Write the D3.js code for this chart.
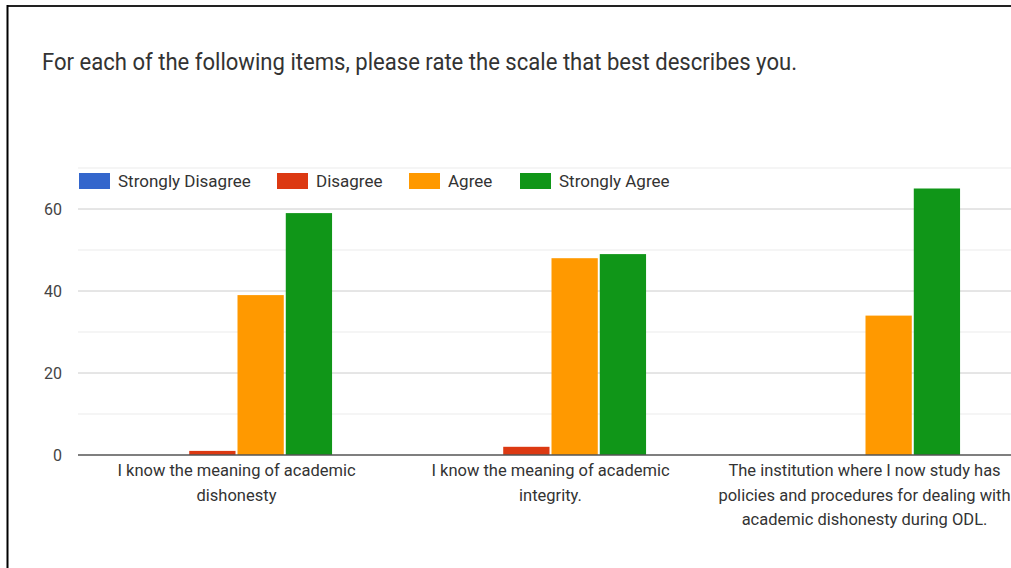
<!DOCTYPE html>
<html>
<head>
<meta charset="utf-8">
<script src="https://cdnjs.cloudflare.com/ajax/libs/d3/7.8.5/d3.min.js"></script>
<style>
  html, body { margin: 0; padding: 0; background: #fff; }
  svg { display: block; font-family: Roboto, Arial, sans-serif; }
</style>
</head>
<body>
<script>
// chart data
const title = "For each of the following items, please rate the scale that best describes you.";
const items = [
  ["I know the meaning of academic", "dishonesty"],
  ["I know the meaning of academic", "integrity."],
  ["The institution where I now study has", "policies and procedures for dealing with", "academic dishonesty during ODL."]
];
const levels = ["Strongly Disagree", "Disagree", "Agree", "Strongly Agree"];
const stronglyDisagree = [0, 0, 0];
const disagree = [1, 2, 0];
const agree = [39, 48, 34];
const stronglyAgree = [59, 49, 65];
const yTicks = [0, 20, 40, 60];
const yMinor = [10, 30, 50, 70];

const colors = ["#3366cc", "#dc3912", "#ff9900", "#109618"];
const series = [stronglyDisagree, disagree, agree, stronglyAgree];

const width = 1011, height = 568;
const svg = d3.select("body").append("svg")
  .attr("width", width)
  .attr("height", height);

// frame of the screenshot
svg.append("line").attr("x1", 7).attr("x2", width).attr("y1", 6).attr("y2", 6)
  .attr("stroke", "#222").attr("stroke-width", 2);
svg.append("line").attr("x1", 7.5).attr("x2", 7.5).attr("y1", 5).attr("y2", height)
  .attr("stroke", "#000").attr("stroke-width", 2);

svg.append("text")
  .attr("x", 42).attr("y", 70)
  .attr("font-size", 23)
  .attr("fill", "#333")
  .attr("textLength", 755)
  .attr("lengthAdjust", "spacingAndGlyphs")
  .text(title);

// scales
const x0 = d3.scaleBand()
  .domain(d3.range(items.length))
  .range([79.5, 1021.5])
  .paddingInner(0.385)
  .paddingOuter(0.1925);

const x1 = d3.scaleBand()
  .domain(d3.range(levels.length))
  .range([0, x0.bandwidth()]);

const y = d3.scaleLinear().domain([0, 70]).range([455, 168]);

// gridlines
svg.append("g").selectAll("line")
  .data(yMinor).join("line")
  .attr("x1", 78).attr("x2", width)
  .attr("y1", d => y(d)).attr("y2", d => y(d))
  .attr("stroke", "#ebebeb").attr("stroke-width", 1);

svg.append("g").selectAll("line")
  .data(yTicks.filter(d => d > 0)).join("line")
  .attr("x1", 78).attr("x2", width)
  .attr("y1", d => y(d)).attr("y2", d => y(d))
  .attr("stroke", "#cccccc").attr("stroke-width", 1);

// y axis labels
const yAxis = d3.axisLeft(y).tickValues(yTicks).tickSize(0).tickPadding(16);
svg.append("g")
  .attr("transform", "translate(78,0)")
  .call(yAxis)
  .call(g => g.select(".domain").remove())
  .call(g => g.selectAll("text")
    .attr("font-size", 16)
    .attr("font-family", "Roboto, Arial, sans-serif")
    .attr("fill", "#444"));

// bars
const groups = svg.append("g").selectAll("g")
  .data(items).join("g")
  .attr("transform", (d, i) => `translate(${x0(i)},0)`);

groups.selectAll("rect")
  .data((d, i) => series.map((s, k) => ({ k, v: s[i] })))
  .join("rect")
  .attr("x", d => x1(d.k) + 1)
  .attr("width", x1.bandwidth() - 2)
  .attr("y", d => y(d.v))
  .attr("height", d => y(0) - y(d.v))
  .attr("fill", d => colors[d.k]);

// baseline
svg.append("line")
  .attr("x1", 78).attr("x2", width)
  .attr("y1", y(0)).attr("y2", y(0))
  .attr("stroke", "#555").attr("stroke-width", 1.5);

// category labels
groups.append("text")
  .attr("text-anchor", "middle")
  .attr("font-size", 16.5)
  .attr("fill", "#333")
  .selectAll("tspan")
  .data(d => d).join("tspan")
  .attr("x", x0.bandwidth() / 2)
  .attr("y", (d, j) => 476 + j * 24.5)
  .text(d => d);

// legend
const legendX = [79, 277, 409, 520];
const legend = svg.append("g").selectAll("g")
  .data(levels).join("g")
  .attr("transform", (d, i) => `translate(${legendX[i]},173)`);
legend.append("rect")
  .attr("width", 31).attr("height", 16)
  .attr("fill", (d, i) => colors[i]);
legend.append("text")
  .attr("x", 39).attr("y", 14)
  .attr("font-size", 17)
  .attr("fill", "#333")
  .text(d => d);
</script>
</body>
</html>
